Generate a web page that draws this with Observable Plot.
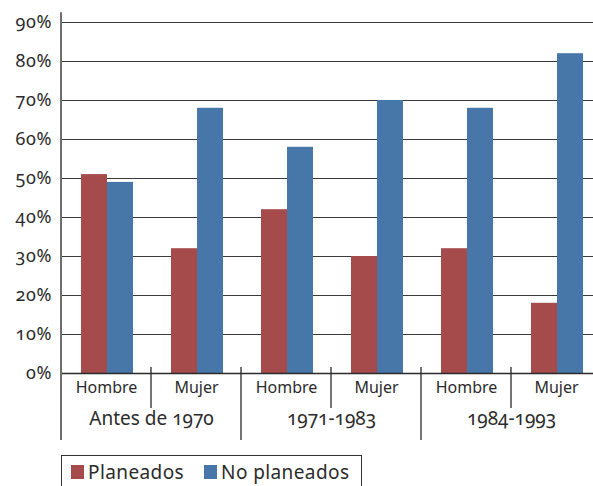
<!DOCTYPE html>
<html>
<head>
<meta charset="utf-8">
<script src="https://cdn.jsdelivr.net/npm/d3@7"></script>
<script src="https://cdn.jsdelivr.net/npm/@observablehq/plot@0.6"></script>
<style>
  html, body { margin: 0; padding: 0; background: #fff; }
  body { width: 593px; height: 486px; overflow: hidden; font-family: "Noto Sans", sans-serif; color: #2b2b2b; }
  svg { display: block; font-variant-numeric: oldstyle-nums; }
  .legend { position: absolute; left: 61px; top: 455px; border: 1.5px solid #333;
            display: flex; height: 40px; align-items: flex-start; padding: 0 12px 0 9px; box-sizing: border-box; }
  .legend .item { display: flex; align-items: center; margin-top: 3px; }
  .legend .sw { width: 13px; height: 14px; margin-right: 4px; }
  .legend .lab { font-size: 19px; letter-spacing: 0.4px; }
</style>
</head>
<body>
<div id="chart"></div>
<script>
const periods = ["Antes de 1970", "1971-1983", "1984-1993"];
const sexes = ["Hombre", "Mujer"];
const series = ["Planeados", "No planeados"];
const planeados = [51, 32, 42, 30, 32, 18];
const noPlaneados = [49, 68, 58, 70, 68, 82];
const yTicks = [0, 10, 20, 30, 40, 50, 60, 70, 80, 90];
const colors = ["#a54b4b", "#4776a8"];

const cells = periods.flatMap(p => sexes.map(s => ({period: p, sex: s, key: p + "|" + s})));
const keys = cells.map(c => c.key);
const data = cells.flatMap((c, i) => [
  {key: c.key, series: series[0], value: planeados[i]},
  {key: c.key, series: series[1], value: noPlaneados[i]}
]);
const groupLabels = periods.map(p => ({period: p, key: p + "|" + sexes[0]}));

const textColor = "#2b2b2b";

const plot = Plot.plot({
  width: 593,
  height: 446,
  marginLeft: 61,
  marginRight: 0,
  marginTop: 22,
  marginBottom: 73,
  style: {fontFamily: "Noto Sans, sans-serif", color: textColor, background: "white"},
  fx: {domain: keys, range: [61, 601], padding: 0, axis: null},
  x: {domain: series, paddingInner: 0, paddingOuter: 0.7, align: 0.52, axis: null},
  y: {domain: [0, 90], range: [373, 22], axis: null},
  color: {domain: series, range: colors},
  marks: [
    Plot.ruleY(yTicks.slice(1), {stroke: "#3a3a3a", strokeWidth: 1.2}),
    Plot.barY(data, {fx: "key", x: "series", y: "value", fill: "series"}),
    Plot.ruleY([0], {stroke: "#2b2b2b", strokeWidth: 1.6}),
    Plot.text(cells, {fx: "key", text: "sex", frameAnchor: "bottom", dy: 19, fontSize: 16, letterSpacing: 0.4, fill: textColor}),
    Plot.text(groupLabels, {fx: "key", text: "period", frameAnchor: "bottom-right", textAnchor: "middle", dy: 51, fontSize: 19, letterSpacing: 0.5, fill: textColor})
  ]
});

// decorations positioned with the plot's own scales
const fx = plot.scale("fx");
const y = plot.scale("y");
const svg = d3.select(plot);
const y0 = y.apply(0);
const g = svg.append("g");
// y axis line
g.append("line")
  .attr("x1", fx.apply(keys[0])).attr("x2", fx.apply(keys[0]))
  .attr("y1", y.apply(92.5)).attr("y2", y0 + 67)
  .attr("stroke", "#6e6e6e").attr("stroke-width", 2);
// dividers
keys.forEach((k, i) => {
  if (i === 0) return;
  const xx = fx.apply(k);
  const long = i % sexes.length === 0;
  g.append("line")
    .attr("x1", xx).attr("x2", xx)
    .attr("y1", y0 - 6).attr("y2", long ? y0 + 67 : y0 + 35)
    .attr("stroke", "#2b2b2b").attr("stroke-width", 1.3);
});
// y tick labels
g.selectAll("text.yt").data(yTicks).join("text")
  .attr("class", "yt")
  .attr("x", fx.apply(keys[0]) - 9)
  .attr("y", d => y.apply(d))
  .attr("dy", "0.35em")
  .attr("text-anchor", "end")
  .attr("font-size", 18)
  .attr("letter-spacing", 0.6)
  .attr("fill", textColor)
  .text(d => d + "%");

document.getElementById("chart").appendChild(plot);

// legend
const legend = d3.select("body").append("div").attr("class", "legend");
series.forEach((s, i) => {
  const it = legend.append("div").attr("class", "item").style("margin-right", i === 0 ? "20px" : "0");
  it.append("div").attr("class", "sw").style("background", colors[i]);
  it.append("div").attr("class", "lab").text(s);
});
</script>
</body>
</html>
